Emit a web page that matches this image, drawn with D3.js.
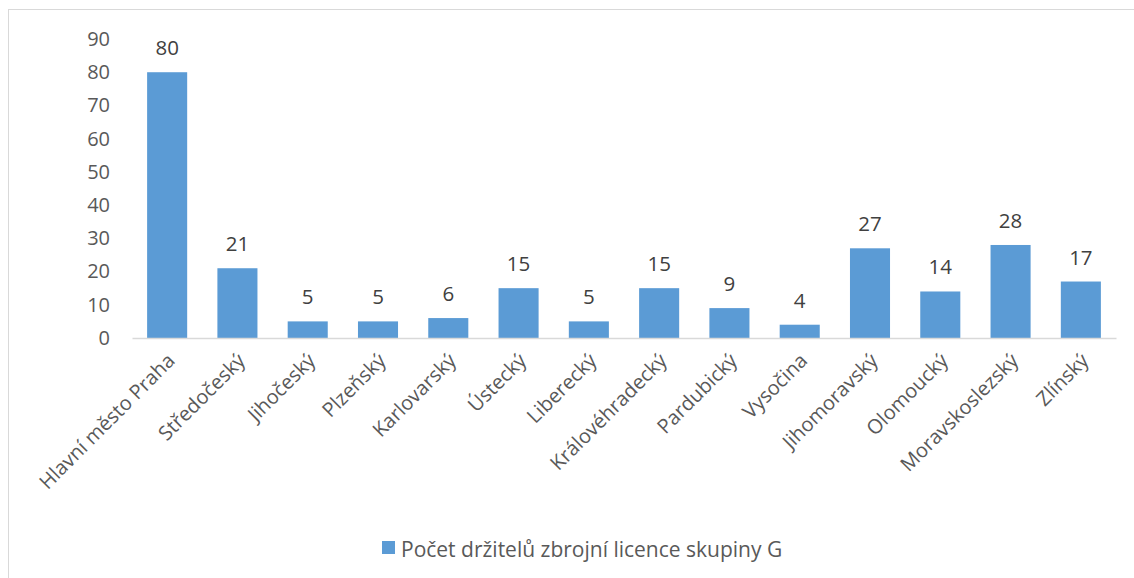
<!DOCTYPE html>
<html><head><meta charset="utf-8">
<script src="https://cdn.jsdelivr.net/npm/d3@7"></script>
<style>body{margin:0;background:#fff}svg{display:block}text{font-family:"Open Sans","Noto Sans",sans-serif}</style>
</head><body><svg id="c" width="1134" height="578"></svg>
<script>
const categories = ["Hlavní město Praha","Středočeský","Jihočeský","Plzeňský","Karlovarský","Ústecký","Liberecký","Královéhradecký","Pardubický","Vysočina","Jihomoravský","Olomoucký","Moravskoslezský","Zlínský"];
const values = [80,21,5,5,6,15,5,15,9,4,27,14,28,17];
const yTicks = [0,10,20,30,40,50,60,70,80,90];
const seriesName = "Počet držitelů zbrojní licence skupiny G";

const svg = d3.select("#c");
svg.append("rect").attr("x",8.5).attr("y",9.5).attr("width",1130).attr("height",580).attr("fill","#fff").attr("stroke","#d9d9d9");

const x = d3.scaleBand().domain(categories).range([132,1116]).paddingInner(0.43).paddingOuter(0.215);
const y = d3.scaleLinear().domain([0,90]).range([338,39]);

const yAxis = svg.append("g").attr("transform","translate(110,0)")
  .call(d3.axisLeft(y).tickValues(yTicks).tickSize(0).tickPadding(0));
yAxis.select(".domain").remove();
yAxis.selectAll("text").attr("font-size",20).attr("fill","#595959").attr("text-anchor","end");

svg.append("g").selectAll("rect").data(values).join("rect")
  .attr("x",(d,i)=>x(categories[i])).attr("width",x.bandwidth())
  .attr("y",d=>y(d)).attr("height",d=>y(0)-y(d)).attr("fill","#5b9bd5");

svg.append("g").selectAll("text").data(values).join("text")
  .attr("x",(d,i)=>x(categories[i])+x.bandwidth()/2).attr("y",d=>y(d)-17)
  .attr("text-anchor","middle").attr("font-size",20.5).attr("fill","#404040").text(d=>d);

const xAxis = svg.append("g").attr("transform",`translate(0,${y(0)})`)
  .call(d3.axisBottom(x).tickSize(0).tickPadding(0));
xAxis.select(".domain").attr("stroke","#d9d9d9").attr("stroke-width",1.5);
xAxis.selectAll("text").attr("font-size",20).attr("fill","#595959")
  .attr("text-anchor","end").attr("dy",0)
  .attr("transform","translate(9,24) rotate(-45)");

const lg = svg.append("g");
lg.append("rect").attr("x",382).attr("y",541).attr("width",13).attr("height",13).attr("fill","#5b9bd5");
lg.append("text").attr("x",401).attr("y",557).attr("font-size",21).attr("fill","#595959").text(seriesName);
</script></body></html>
